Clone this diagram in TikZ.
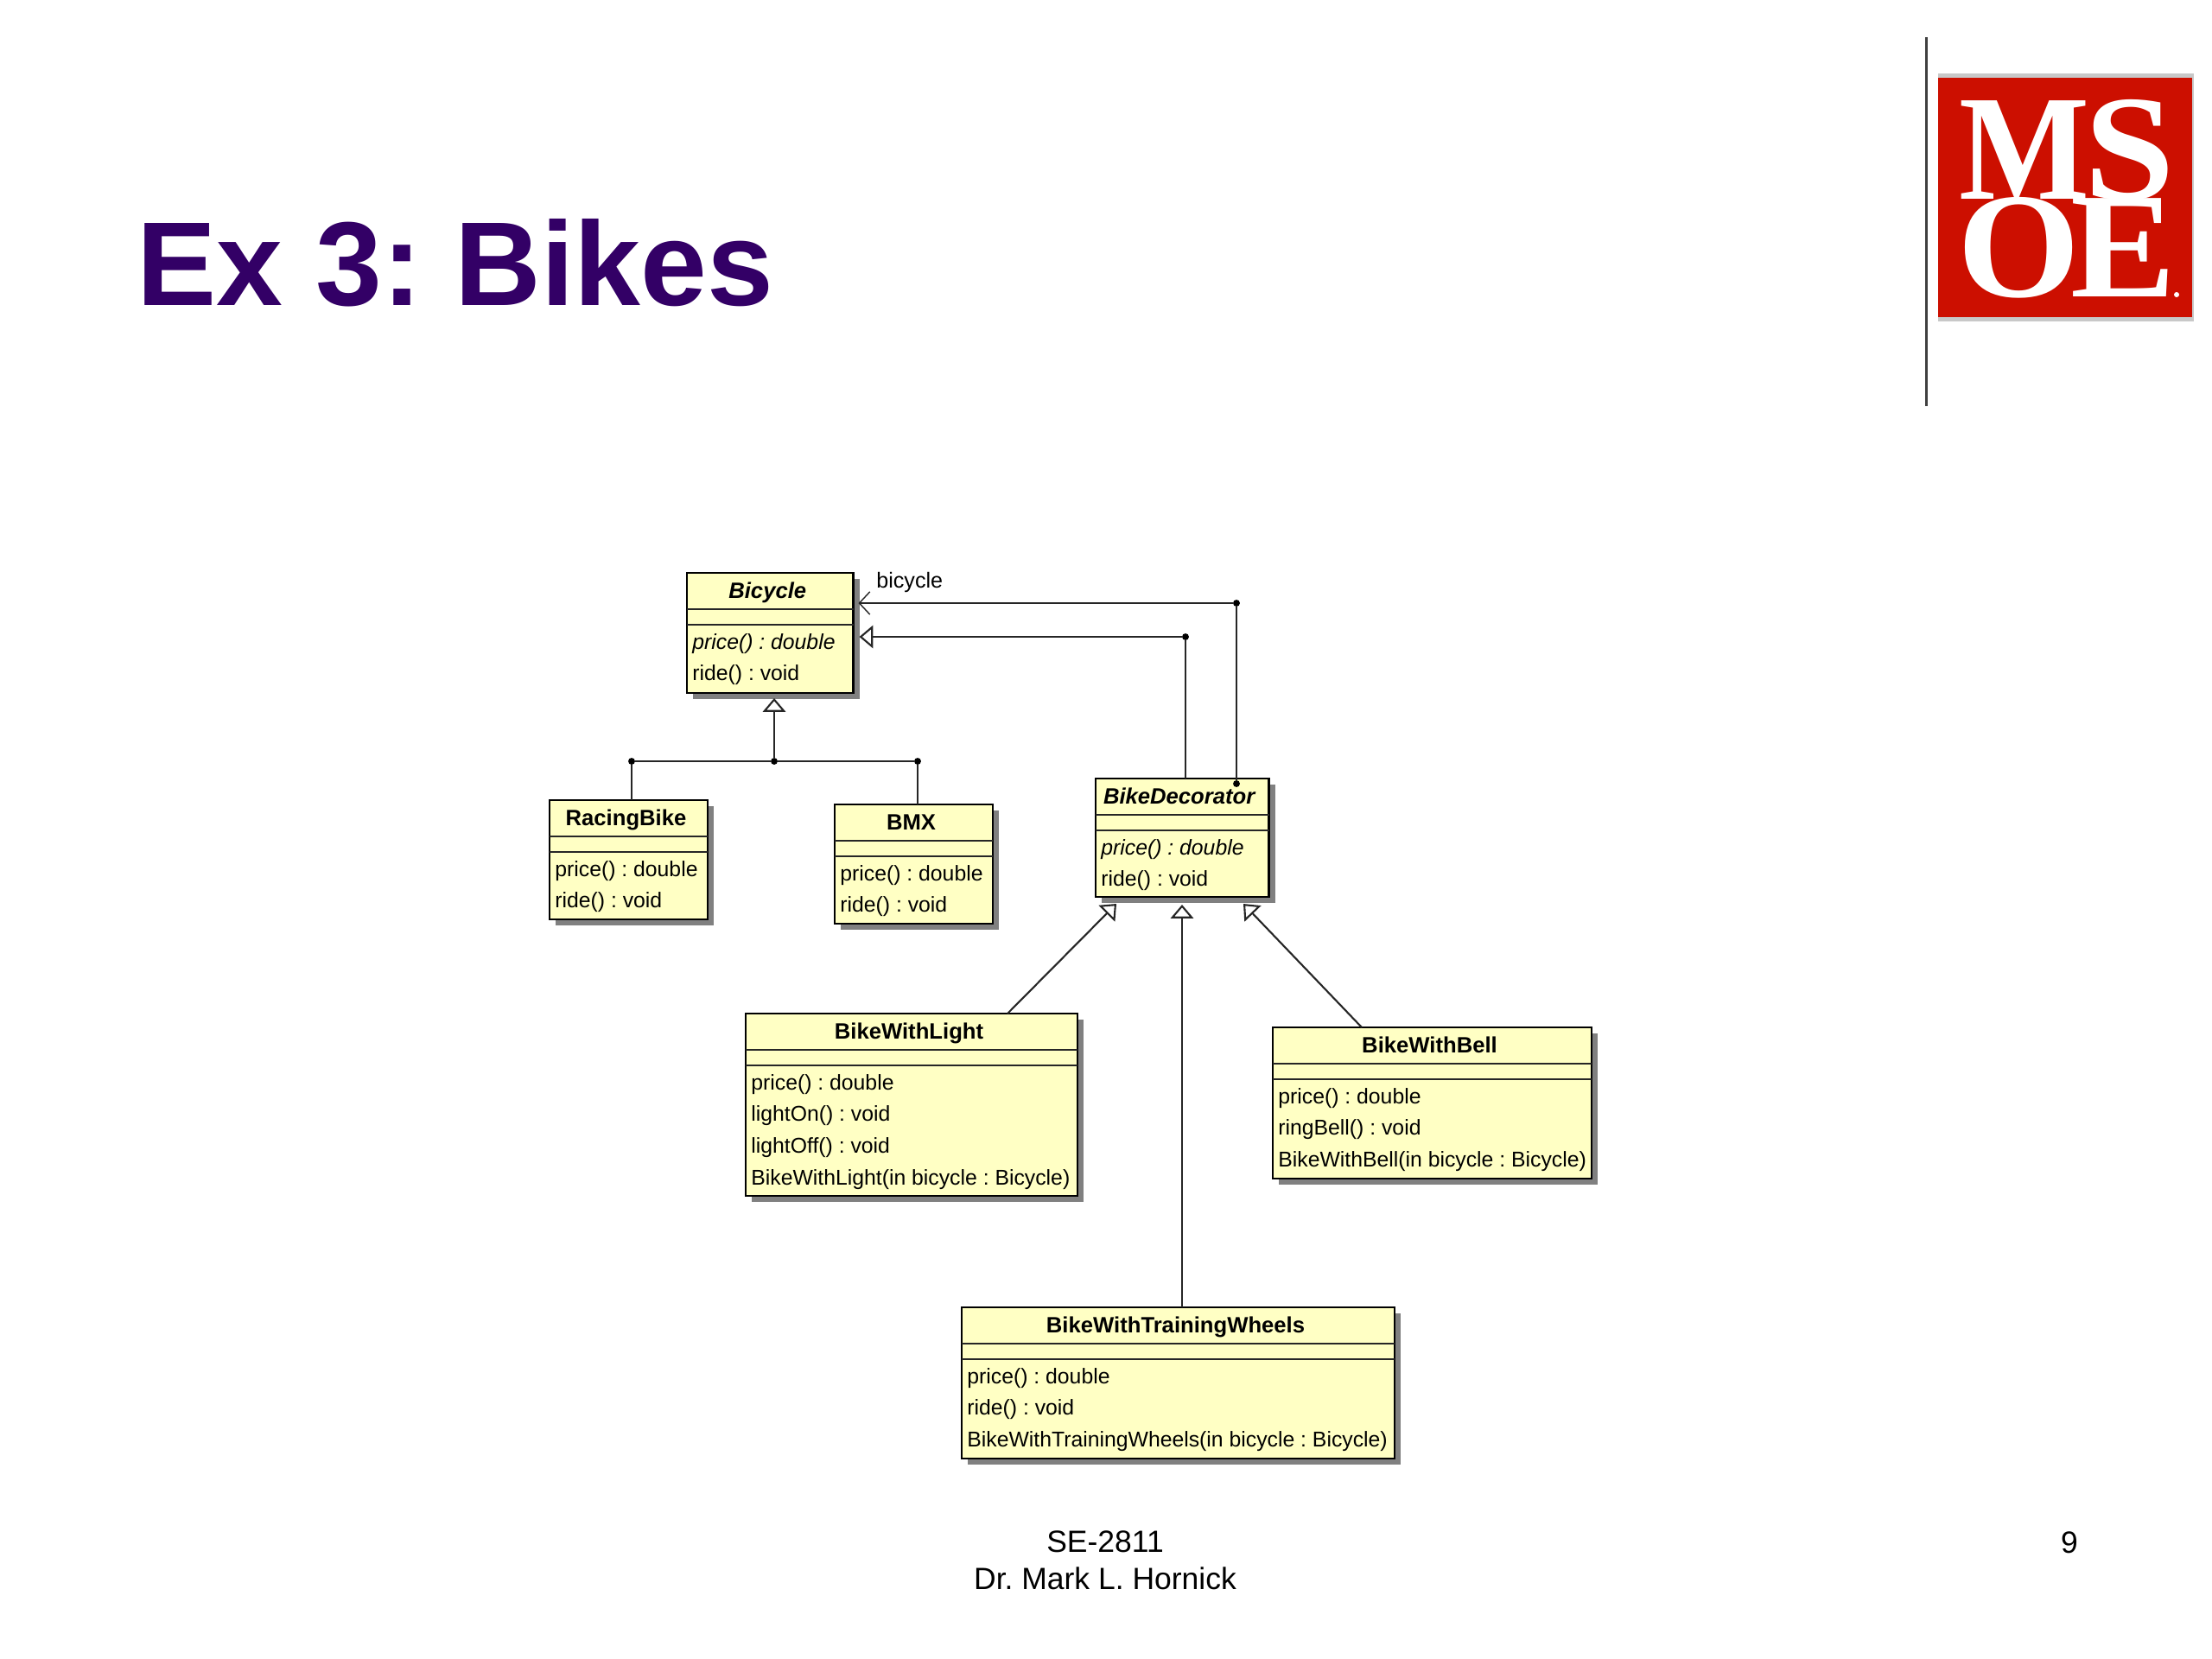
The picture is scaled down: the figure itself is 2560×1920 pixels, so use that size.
\documentclass[tikz,border=0pt]{standalone}
\usepackage{fontspec}
\setmainfont{Liberation Sans}
\newfontfamily\logofont{Liberation Serif}
\usepackage{xcolor}
\usepackage{tikz}
\usetikzlibrary{positioning, arrows.meta, calc, shadows}
\frenchspacing
\definecolor{TitlePurple}{HTML}{330066}
\definecolor{ClassYellow}{HTML}{FFFFC4}
\definecolor{ShadowGray}{HTML}{808080}
\definecolor{LogoRed}{HTML}{CC0F00}
\definecolor{LogoEdge}{HTML}{C8C8C8}
\definecolor{RuleGray}{HTML}{404040}
\tikzset{
  classbox/.style={draw=black, fill=ClassYellow, line width=1.2pt, anchor=north west, inner sep=0pt, outer sep=0pt,
    general shadow={fill=ShadowGray, shadow xshift=4pt, shadow yshift=-4pt}},
  classname/.style={anchor=base, inner sep=0pt, font=\fontsize{14.6}{14.6}\selectfont\bfseries},
  classrow/.style={anchor=base west, inner sep=0pt, font=\fontsize{14.1}{14.1}\selectfont},
  divider/.style={black!85, line width=1.1pt},
  link/.style={black!85, line width=1.2pt},
  inherit/.style={link, -{Triangle[open, fill=white, length=9pt, width=15pt]}},
  assoc/.style={link, -{Straight Barb[length=7pt, width=15pt, line width=0.8pt]}},
  jointdot/.style={circle, fill=black, inner sep=0pt, minimum size=4.5pt},
  letter/.style={anchor=base, inner sep=0pt, text=white, font=\fontsize{99}{99}\selectfont\logofont\bfseries},
}
% name, left, top, width, height, title, rows
\newcommand{\umlclass}[7]{
  \node[classbox, minimum width=#4*0.02cm, minimum height=#5*0.02cm] (#1) at (#2,#3) {};
  \draw[divider] ($(#1.north west)+(0,42)$) -- ($(#1.north east)+(0,42)$);
  \draw[divider] ($(#1.north west)+(0,60)$) -- ($(#1.north east)+(0,60)$);
  \node[classname] (#1Title) at ($(#1.north)+(-3,29)$) {#6};
  \foreach \rowtext [count=\i from 0] in {#7} {
    \node[classrow] (#1Row\i) at ($(#1.north west)+(6,88+36.7*\i)$) {\rowtext};
  }
}
\begin{document}
\begin{tikzpicture}[x=0.02cm, y=-0.02cm]
  \useasboundingbox (0,0) rectangle (2560,1920);
  \fill[white] (0,0) rectangle (2560,1920);
  \node[anchor=base west, inner sep=0pt, text=TitlePurple, font=\fontsize{78.6}{78.6}\selectfont\bfseries] (slideTitle) at (158,353) {Ex 3: Bikes};

  % Logo
  \draw[RuleGray, line width=1.7pt] (2229,43) -- (2229,470);
  \fill[LogoEdge] (2243,85) rectangle (2539,372);
  \fill[LogoRed] (2243,90) rectangle (2537,367);
  \node[letter, xscale=0.92] (logoM) at (2343,230) {M};
  \node[letter, xscale=1.08] (logoS) at (2465,230) {S};
  \node[letter, xscale=1.05] (logoO) at (2337,343) {O};
  \node[letter, xscale=1.05] (logoE) at (2457,343) {E};
  \fill[white] (2519,341) circle (3);

  \umlclass{Bicycle}{795}{663}{192.5}{139}{\textit{Bicycle}}{\textit{price() : double}, ride() : void}
  \umlclass{RacingBike}{636}{926}{183}{138}{RacingBike}{price() : double, ride() : void}
  \umlclass{BMX}{966}{931}{183}{138}{BMX}{price() : double, ride() : void}
  \umlclass{BikeDecorator}{1268}{901}{200.5}{137}{\textit{BikeDecorator}}{\textit{price() : double}, ride() : void}
  \umlclass{BikeWithLight}{863}{1173}{384}{211}{BikeWithLight}{price() : double, lightOn() : void, lightOff() : void, BikeWithLight(in bicycle : Bicycle)}
  \umlclass{BikeWithBell}{1473}{1189}{369}{175}{BikeWithBell}{price() : double, ringBell() : void, BikeWithBell(in bicycle : Bicycle)}
  \umlclass{BikeWithTrainingWheels}{1113}{1513}{501}{175}{BikeWithTrainingWheels}{price() : double, ride() : void, BikeWithTrainingWheels(in bicycle : Bicycle)}

  % Tree under Bicycle
  \node[jointdot] (joinLeft) at (731,881) {};
  \node[jointdot] (joinMid) at (896,881) {};
  \node[jointdot] (joinRight) at (1062,881) {};
  \draw[link] (joinLeft) -- (joinMid) -- (joinRight);
  \draw[link] (joinLeft) -- (joinLeft |- RacingBike.north);
  \draw[link] (joinRight) -- (joinRight |- BMX.north);
  \draw[inherit, shorten >=6pt*0.57] (joinMid) -- (joinMid |- Bicycle.south);

  % Decorator up to Bicycle
  \node[jointdot] (inheritTurn) at (1372,737) {};
  \node[jointdot] (assocTurn) at (1431,698) {};
  \node[jointdot] (assocStart) at (1431,907) {};
  \draw[link] (inheritTurn |- BikeDecorator.north) -- (inheritTurn);
  \draw[inherit, shorten >=7pt*0.57] (inheritTurn) -- (inheritTurn -| Bicycle.east);
  \draw[link] (assocStart) -- (assocTurn);
  \draw[assoc, shorten >=6pt*0.57] (assocTurn) -- (assocTurn -| Bicycle.east);
  \node[anchor=base west, inner sep=0pt, font=\fontsize{14.3}{14.3}\selectfont] (assocLabel) at (1014,680) {bicycle};

  % Decorations up to BikeDecorator
  \draw[inherit] ($(BikeWithLight.north west)+(303,0)$) -- ($(BikeDecorator.south west)+(24,8)$);
  \draw[inherit] ($(BikeWithTrainingWheels.north west)+(255,0)$) -- ($(BikeDecorator.south west)+(100,9)$);
  \draw[inherit] ($(BikeWithBell.north west)+(103,0)$) -- ($(BikeDecorator.south west)+(171,8)$);

  % Footer
  \node[align=center, inner sep=0pt, font=\fontsize{20.2}{24.2}\selectfont] (footerText) at (1279,1806) {SE-2811\\Dr. Mark L. Hornick};
  \node[inner sep=0pt, font=\fontsize{20.2}{24}\selectfont] (pageNumber) at (2395,1785) {9};
\end{tikzpicture}
\end{document}
